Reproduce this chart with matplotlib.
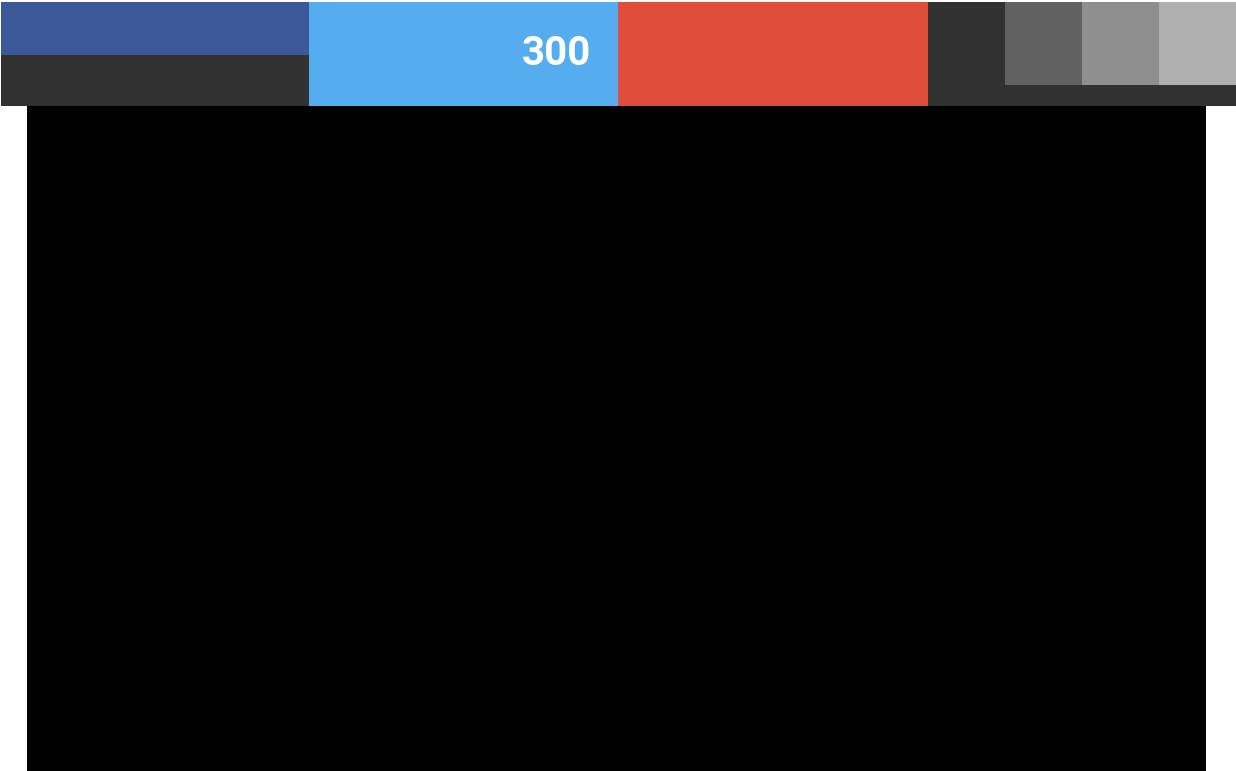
import matplotlib
matplotlib.use("Agg")
import matplotlib.pyplot as plt

# share widget: networks across the top bar
networks = ["facebook", "twitter", "google"]
net_colors = ["#3B5998", "#55ACEE", "#DF4E3A"]
share_counts = [None, 300, None]
grey_tiles = ["#616161", "#8F8F8F", "#AFAFAF"]

W, H = 1236, 771
fig = plt.figure(figsize=(W / 100, H / 100), dpi=100)
ax = fig.add_axes([0, 0, 1, 1])
ax.set_xlim(0, W)
ax.set_ylim(H, 0)
ax.axis("off")

bar_top, bar_h = 2, 104
edges = [1, 309, 618, 928]

# network cells
for i, (name, col, cnt) in enumerate(zip(networks, net_colors, share_counts)):
    left, right = edges[i], edges[i + 1]
    if name == "facebook":
        ax.bar(left, 53, width=right - left, bottom=bar_top, align="edge", color=col, lw=0)
        ax.bar(left, bar_h - 53, width=right - left, bottom=bar_top + 53, align="edge",
               color="#313131", lw=0)
    else:
        ax.bar(left, bar_h, width=right - left, bottom=bar_top, align="edge", color=col, lw=0)
    if cnt is not None:
        ax.text(right - 27, bar_top + 52, str(cnt), color="white",
                fontsize=29, fontweight="bold", family=["Roboto", "DejaVu Sans"],
                ha="right", va="center")

# last dark cell with grey tiles
left = edges[-1]
ax.bar(left, bar_h, width=W - left, bottom=bar_top, align="edge", color="#313131", lw=0)
tile_w = 77
for j, col in enumerate(grey_tiles):
    ax.bar(1005 + j * tile_w, 83, width=tile_w, bottom=bar_top, align="edge",
           color=col, lw=0)

# main black panel
ax.bar(27, H - 106, width=1206 - 27, bottom=106, align="edge", color="black", lw=0)

fig.savefig("out.png", dpi=100)
